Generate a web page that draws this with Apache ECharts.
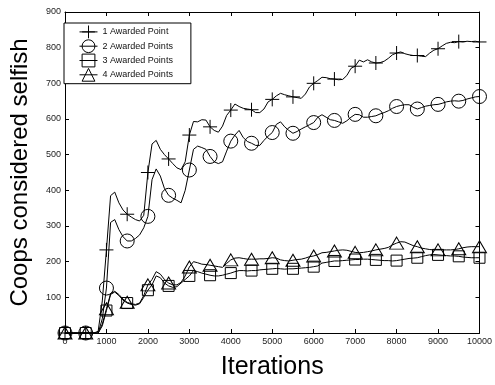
<!DOCTYPE html>
<html>
<head>
<meta charset="utf-8">
<script src="https://cdn.jsdelivr.net/npm/echarts@6/dist/echarts.min.js"></script>
<style>
html,body{margin:0;padding:0;background:#fff;}
#chart{width:495px;height:385px;}
</style>
</head>
<body>
<div id="chart"></div>
<script>
const iterations = [0,100,200,300,400,500,600,700,800,900,1000,1100,1200,1300,1400,1500,1600,1700,1800,1900,2000,2100,2200,2300,2400,2500,2600,2700,2800,2900,3000,3100,3200,3300,3400,3500,3600,3700,3800,3900,4000,4100,4200,4300,4400,4500,4600,4700,4800,4900,5000,5100,5200,5300,5400,5500,5600,5700,5800,5900,6000,6100,6200,6300,6400,6500,6600,6700,6800,6900,7000,7100,7200,7300,7400,7500,7600,7700,7800,7900,8000,8100,8200,8300,8400,8500,8600,8700,8800,8900,9000,9100,9200,9300,9400,9500,9600,9700,9800,9900,10000];

const names = ['1 Awarded Point','2 Awarded Points','3 Awarded Points','4 Awarded Points'];

const awarded1 = [0,0,0,0,0,0,0,0,5,90,233,385,395,365,345,333,325,318,314,330,450,530,540,515,500,488,475,463,458,480,555,593,592,598,597,578,568,563,580,610,625,642,635,630,628,626,618,618,628,648,655,665,672,668,665,662,660,658,670,690,700,708,717,716,713,712,710,711,722,742,748,765,760,766,760,757,758,762,770,780,785,788,783,780,778,778,776,775,785,793,797,805,812,815,814,817,816,818,817,818,816];

const awarded2 = [0,0,0,0,0,0,0,0,0,40,126,310,318,290,270,258,258,265,275,295,327,430,460,440,405,386,378,372,365,400,457,515,524,520,515,495,480,475,480,510,538,555,568,548,537,532,526,526,540,552,562,585,592,578,568,560,565,572,578,584,590,605,612,605,598,596,592,588,595,605,613,612,605,605,607,609,614,618,623,630,635,638,640,640,633,628,632,636,638,640,641,644,648,650,651,650,652,656,659,662,663];

const awarded3 = [0,0,0,0,0,0,0,0,0,20,63,108,115,105,92,84,80,78,82,100,120,135,160,155,140,132,128,130,140,150,160,175,172,168,165,162,160,160,162,165,168,172,175,175,174,175,175,177,178,179,180,181,180,179,180,180,181,182,183,184,186,188,196,198,200,202,202,203,204,205,206,206,207,207,206,205,204,203,203,202,203,205,207,209,210,211,214,217,219,220,219,218,217,216,216,215,213,212,211,211,211];

const awarded4 = [0,0,0,0,0,0,0,0,0,25,68,110,117,108,95,86,82,80,84,105,135,150,172,165,150,140,135,135,142,160,185,200,197,193,192,190,188,186,184,195,205,210,211,209,207,207,207,208,208,209,211,210,205,203,202,204,206,207,210,214,216,220,225,226,228,230,232,233,232,229,226,225,226,228,230,233,235,237,240,247,252,256,255,250,245,242,238,236,234,233,233,233,233,233,234,236,239,241,242,242,242];

const yTicks = [0,100,200,300,400,500,600,700,800,900];
const xTicks = [0,1000,2000,3000,4000,5000,6000,7000,8000,9000,10000];

const markerEvery = 500;
const FONT = '"Liberation Sans", Arial, Helvetica, sans-serif';

const symbols = [
  'path://M5,0L5,10M0,5L10,5',
  'circle',
  'rect',
  'triangle'
];
const symbolSizes = [14, 14, 11, [14, 12]];
const allValues = [awarded1, awarded2, awarded3, awarded4];

const series = allValues.map((vals, s) => ({
  name: names[s],
  type: 'line',
  symbol: symbols[s],
  symbolSize: symbolSizes[s],
  showSymbol: true,
  showAllSymbol: true,
  animation: false,
  lineStyle: {color: '#000', width: 1},
  itemStyle: {color: 'rgba(0,0,0,0)', borderColor: '#000', borderWidth: 1},
  emphasis: {disabled: true},
  z: 2 + s,
  data: iterations.map((x, i) => {
    const item = {value: [x, vals[i]]};
    if (x % markerEvery !== 0) item.symbol = 'none';
    return item;
  })
}));

const chart = echarts.init(document.getElementById('chart'), null, {renderer: 'canvas'});
chart.setOption({
  animation: false,
  backgroundColor: '#fff',
  textStyle: {fontFamily: FONT},
  grid: {left: 57, right: 13, top: 12, bottom: 38, containLabel: false},
  legend: {
    orient: 'vertical',
    left: 64,
    top: 23,
    backgroundColor: '#fff',
    borderColor: '#000',
    borderWidth: 1,
    borderRadius: 0,
    padding: [2, 18, 2, 15],
    itemWidth: 18,
    itemHeight: 16,
    itemGap: 0.5,
    selectedMode: false,
    lineStyle: {width: 1, color: '#000'},
    itemStyle: {color: 'rgba(0,0,0,0)', borderColor: '#000', borderWidth: 1},
    textStyle: {fontFamily: FONT, fontSize: 9, color: '#111'},
    data: names
  },
  xAxis: [{
    type: 'value', min: 0, max: 10000, interval: 1000,
    name: 'Iterations', nameLocation: 'middle', nameGap: 22,
    nameTextStyle: {fontFamily: FONT, fontSize: 25, color: '#000'},
    axisLine: {show: true, onZero: false, lineStyle: {color: '#000', width: 1}},
    axisTick: {show: true, inside: true, length: 4, lineStyle: {color: '#000'}},
    axisLabel: {fontFamily: FONT, fontSize: 9, color: '#222', margin: 4,
      formatter: v => xTicks.indexOf(v) >= 0 ? String(v) : ''},
    splitLine: {show: false}
  }, {
    type: 'value', min: 0, max: 10000, interval: 1000, position: 'top',
    axisLine: {show: true, onZero: false, lineStyle: {color: '#000', width: 1}},
    axisTick: {show: true, inside: true, length: 4, lineStyle: {color: '#000'}},
    axisLabel: {show: false}, splitLine: {show: false}
  }],
  yAxis: [{
    type: 'value', min: 0, max: 900, interval: 100,
    name: 'Coops considered selfish', nameLocation: 'middle', nameGap: 33,
    nameTextStyle: {fontFamily: FONT, fontSize: 24, color: '#000'},
    axisLine: {show: true, onZero: false, lineStyle: {color: '#000', width: 1}},
    axisTick: {show: true, inside: true, length: 4, lineStyle: {color: '#000'}},
    axisLabel: {fontFamily: FONT, fontSize: 9, color: '#222', margin: 4,
      formatter: v => (v === 0 || yTicks.indexOf(v) < 0) ? '' : String(v)},
    splitLine: {show: false}
  }, {
    type: 'value', min: 0, max: 900, interval: 100, position: 'right',
    axisLine: {show: true, onZero: false, lineStyle: {color: '#000', width: 1}},
    axisTick: {show: true, inside: true, length: 4, lineStyle: {color: '#000'}},
    axisLabel: {show: false}, splitLine: {show: false}
  }],
  series: series
});
</script>
</body>
</html>
